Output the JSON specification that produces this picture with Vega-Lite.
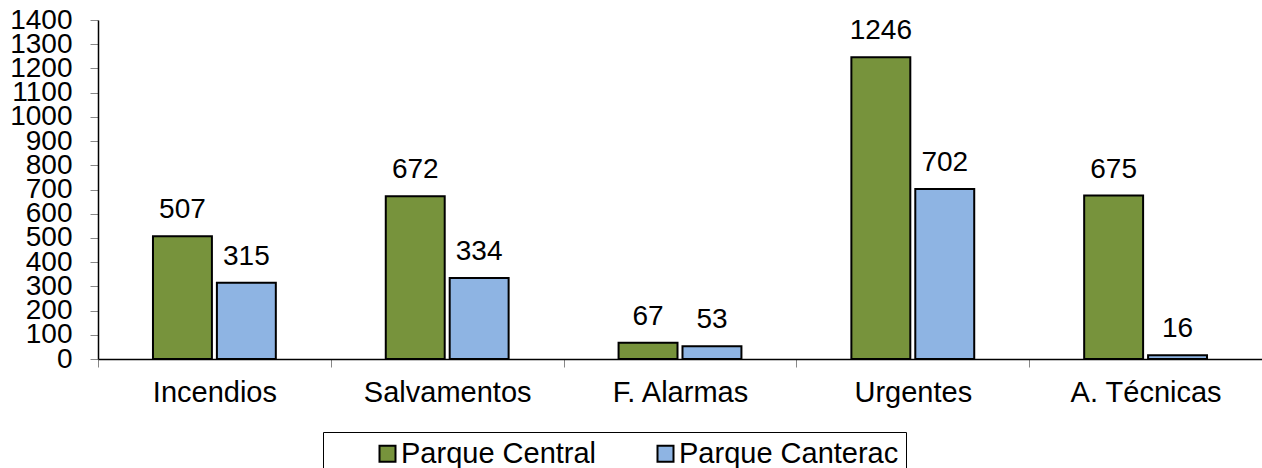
{
  "$schema": "https://vega.github.io/schema/vega-lite/v6.json",
  "width": 1164,
  "height": 339,
  "autosize": {"type": "none"},
  "padding": {"left": 98, "top": 20, "right": 0, "bottom": 109},
  "background": "white",
  "config": {"view": {"stroke": null}, "font": "Liberation Sans"},
  "data": {"values": [
    {"cat": "Incendios", "serie": "Parque Central", "v": 507},
    {"cat": "Incendios", "serie": "Parque Canterac", "v": 315},
    {"cat": "Salvamentos", "serie": "Parque Central", "v": 672},
    {"cat": "Salvamentos", "serie": "Parque Canterac", "v": 334},
    {"cat": "F. Alarmas", "serie": "Parque Central", "v": 67},
    {"cat": "F. Alarmas", "serie": "Parque Canterac", "v": 53},
    {"cat": "Urgentes", "serie": "Parque Central", "v": 1246},
    {"cat": "Urgentes", "serie": "Parque Canterac", "v": 702},
    {"cat": "A. Técnicas", "serie": "Parque Central", "v": 675},
    {"cat": "A. Técnicas", "serie": "Parque Canterac", "v": 16}
  ]},
  "encoding": {
    "x": {"field": "cat", "type": "nominal", "sort": null,
      "scale": {"paddingInner": 0, "paddingOuter": 0},
      "axis": {"title": null, "labelAngle": 0, "labelFontSize": 29, "labelColor": "black", "labelPadding": 11,
        "tickBand": "extent", "tickSize": 8, "tickColor": "#888", "domainColor": "black", "domainWidth": 1.5}},
    "xOffset": {"field": "serie", "type": "nominal", "sort": ["Parque Central", "Parque Canterac"],
      "scale": {"paddingInner": 0.078, "paddingOuter": 0.86}},
    "y": {"field": "v", "type": "quantitative",
      "scale": {"domain": [0, 1400], "nice": false},
      "axis": {"title": null, "values": [0,100,200,300,400,500,600,700,800,900,1000,1100,1200,1300,1400],
        "format": "d", "grid": false, "labelOverlap": false, "labelFontSize": 28, "labelColor": "black", "labelPadding": 18, "tickSize": 8, "tickColor": "#888",
        "domainColor": "black", "domainWidth": 1.5}}
  },
  "layer": [
    {"mark": {"type": "bar", "stroke": "black", "strokeWidth": 2},
      "encoding": {"color": {"field": "serie", "type": "nominal", "sort": ["Parque Central", "Parque Canterac"],
        "scale": {"domain": ["Parque Central", "Parque Canterac"], "range": ["#77933C", "#8EB4E3"]},
        "legend": {"title": null, "orient": "none", "legendX": 225, "legendY": 412, "direction": "horizontal",
          "strokeColor": "black", "padding": 7, "labelFontSize": 29, "labelColor": "black", "labelLimit": 0, "symbolType": "square",
          "symbolSize": 256, "symbolStrokeColor": "black", "symbolStrokeWidth": 2, "symbolOffset": 43, "columnPadding": 11, "labelOffset": -1}}}},
    {"mark": {"type": "text", "baseline": "alphabetic", "dy": -18, "fontSize": 28, "color": "black"},
      "encoding": {"text": {"field": "v", "type": "quantitative"}}}
  ]
}
